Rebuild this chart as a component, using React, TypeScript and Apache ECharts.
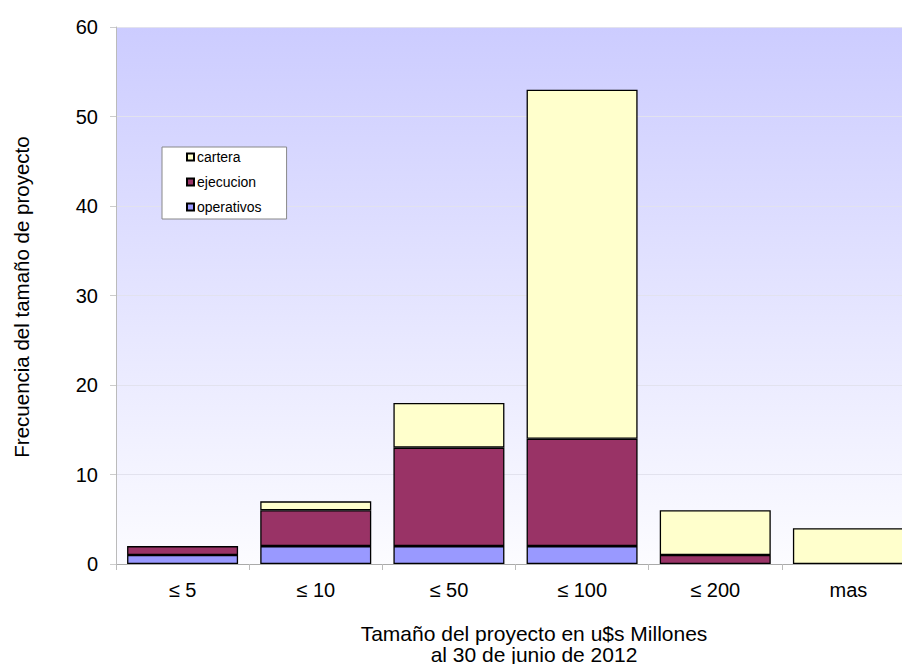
import React, { useEffect, useRef } from "react";
import * as echarts from "echarts";

const categories = ["≤ 5", "≤ 10", "≤ 50", "≤ 100", "≤ 200", "mas"];
const operativos = [1, 2, 2, 2, 0, 0];
const ejecucion = [1, 4, 11, 12, 1, 0];
const cartera = [0, 1, 5, 39, 5, 4];
const yTicks = { min: 0, max: 60, interval: 10 };

const FONT = "'Liberation Sans', Arial, sans-serif";

export default function App() {
  const ref = useRef<HTMLDivElement>(null);
  useEffect(() => {
    if (!ref.current) return;
    const chart = echarts.init(ref.current, null, { renderer: "svg" });
    const toData = (arr: number[]) => arr.map((v) => (v === 0 ? null : v));
    const barCommon = {
      type: "bar",
      stack: "total",
      barWidth: 111,
      itemStyle: { borderColor: "#000", borderWidth: 1.3 },
      emphasis: { disabled: true },
    };
    chart.setOption({
      animation: false,
      textStyle: { fontFamily: FONT },
      grid: {
        left: 116,
        top: 27,
        width: 799,
        height: 537,
        outerBoundsMode: "none",
        containLabel: false,
        show: true,
        borderWidth: 0,
        backgroundColor: new echarts.graphic.LinearGradient(0, 0, 0, 1, [
          { offset: 0, color: "#ccccff" },
          { offset: 1, color: "#fcfcff" },
        ]),
      },
      legend: {
        orient: "vertical",
        left: 162,
        top: 147,
        data: ["cartera", "ejecucion", "operativos"],
        icon: "rect",
        itemWidth: 7,
        itemHeight: 7,
        itemGap: 9,
        padding: [2, 25, 4, 24],
        backgroundColor: "#ffffff",
        borderColor: "#888",
        borderWidth: 1,
        borderRadius: 0,
        textStyle: { fontSize: 14, lineHeight: 16, color: "#000", fontFamily: FONT, padding: [0, 0, 0, -2] },
        selectedMode: false,
      },
      xAxis: {
        type: "category",
        data: categories,
        boundaryGap: true,
        axisLine: { lineStyle: { color: "#aaa", width: 1 } },
        axisTick: { show: true, length: 6, lineStyle: { color: "#bbb" } },
        axisLabel: { fontSize: 20, color: "#000", margin: 16, fontFamily: FONT },
      },
      yAxis: {
        type: "value",
        min: yTicks.min,
        max: yTicks.max,
        interval: yTicks.interval,
        axisLine: { show: true, lineStyle: { color: "#bbb", width: 1 } },
        axisTick: { show: true, length: 6, lineStyle: { color: "#ccc" } },
        axisLabel: { fontSize: 20, color: "#000", margin: 18, fontFamily: FONT },
        splitLine: { show: true, lineStyle: { color: "#e2e2ee", width: 1 } },
      },
      graphic: [
        {
          type: "text",
          x: 21,
          y: 297,
          rotation: Math.PI / 2,
          style: {
            text: "Frecuencia del tamaño de proyecto",
            fontSize: 20.5,
            fill: "#000",
            fontFamily: FONT,
            align: "center",
            verticalAlign: "middle",
          },
        },
        {
          type: "text",
          x: 534,
          y: 633,
          style: {
            text: "Tamaño del proyecto en u$s Millones",
            fontSize: 21,
            lineHeight: 20,
            fill: "#000",
            fontFamily: FONT,
            align: "center",
            verticalAlign: "middle",
          },
        },
        {
          type: "text",
          x: 534,
          y: 654,
          style: {
            text: "al 30 de junio de 2012",
            fontSize: 21,
            lineHeight: 20,
            fill: "#000",
            fontFamily: FONT,
            align: "center",
            verticalAlign: "middle",
          },
        },
      ],
      series: [
        { ...barCommon, name: "operativos", data: toData(operativos), itemStyle: { ...barCommon.itemStyle, color: "#9999ff" } },
        { ...barCommon, name: "ejecucion", data: toData(ejecucion), itemStyle: { ...barCommon.itemStyle, color: "#993366" } },
        { ...barCommon, name: "cartera", data: toData(cartera), itemStyle: { ...barCommon.itemStyle, color: "#ffffcc" } },
      ],
    });
    return () => chart.dispose();
  }, []);
  return <div ref={ref} style={{ width: 902, height: 664, position: "absolute", left: 0, top: 0 }} />;
}
